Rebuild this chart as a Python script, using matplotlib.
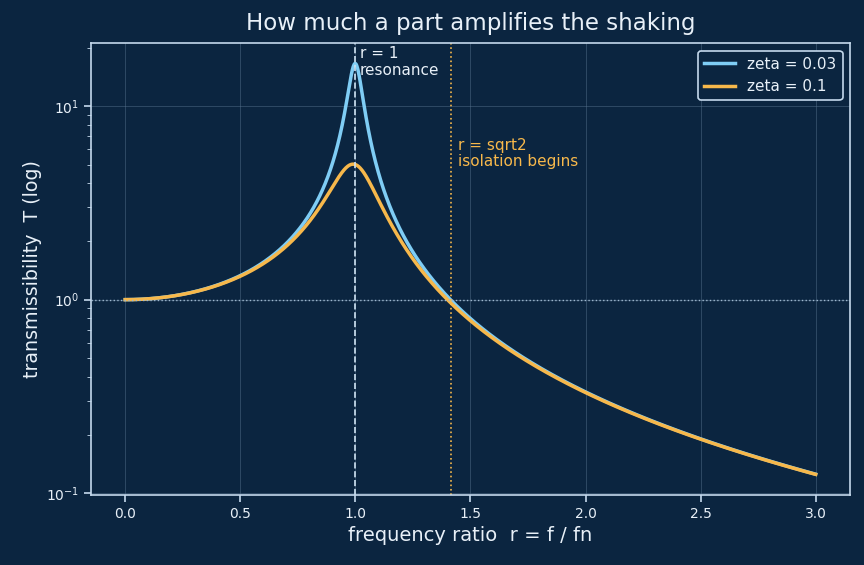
import numpy as np
import matplotlib.pyplot as plt

# damping ratios shown in the legend
zetas = [0.03, 0.1]
labels = ["zeta = 0.03", "zeta = 0.1"]
colors = ["#7fcdf5", "#f7b84b"]

# frequency ratio range
r = np.linspace(0.0, 3.0, 1500)

bg = "#0b2540"
fg = "#e8f0f8"
spine = "#c5d9ec"

fig = plt.figure(figsize=(8.64, 5.65), dpi=100, facecolor=bg)
ax = fig.add_axes([0.105, 0.124, 0.879, 0.800], facecolor=bg)

# amplification of a single dof system
for z, lab, c in zip(zetas, labels, colors):
    T = 1.0 / np.sqrt((1 - r**2)**2 + (2*z*r)**2)
    ax.plot(r, T, color=c, lw=2.5, label=lab)

ax.set_yscale("log")
ax.axhline(1.0, color="#9fb8cf", lw=1, ls=":")
ax.axvline(1.0, color="#cfe3f3", lw=1.2, ls="--")
ax.axvline(np.sqrt(2), color="#f7b84b", lw=1.2, ls=":")

ax.text(1.02, 20.5, "r = 1\nresonance", color=fg, fontsize=11, va="top",
        linespacing=1.15)
ax.text(np.sqrt(2) + 0.03, 6.9, "r = sqrt2\nisolation begins", color="#f7b84b",
        fontsize=11, va="top", linespacing=1.15)

ax.grid(True, which="major", color="#5a7590", lw=0.7, alpha=0.45)
for s in ax.spines.values():
    s.set_color(spine)
    s.set_linewidth(1.2)
ax.tick_params(colors=spine, labelcolor=fg, labelsize=10, length=5, width=1.2)
ax.tick_params(which="minor", colors=spine, length=3)

ax.set_title("How much a part amplifies the shaking", color=fg, fontsize=16.5, pad=9)
ax.set_xlabel("frequency ratio  r = f / fn", color=fg, fontsize=14)
ax.set_ylabel("transmissibility  T (log)", color=fg, fontsize=13.7, labelpad=3)

leg = ax.legend(loc="upper right", facecolor=bg, edgecolor=spine, fontsize=11,
                framealpha=1)
leg.get_frame().set_linewidth(1.2)
for t in leg.get_texts():
    t.set_color(fg)

fig.savefig("out.png", dpi=100, facecolor=bg)
